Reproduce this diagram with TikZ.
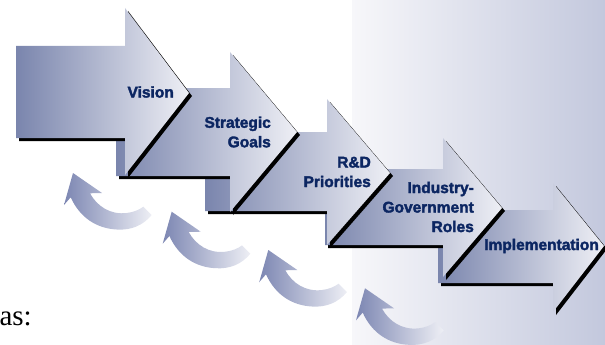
\documentclass[tikz,border=0pt]{standalone}
\usepackage{fontspec}
\newfontfamily\stepfont[FakeBold=2.2]{Liberation Sans}
\newfontfamily\serifbody{Liberation Serif}
\definecolor{arrL}{RGB}{122,133,173}
\definecolor{arrR}{RGB}{238,239,245}
\definecolor{curL}{RGB}{124,134,178}
\definecolor{curR}{RGB}{238,239,245}
\definecolor{panL}{RGB}{247,247,250}
\definecolor{panR}{RGB}{195,200,221}
\definecolor{labelblue}{RGB}{12,38,98}
\tikzset{
  steplabel/.style={font={\stepfont\bfseries\fontsize{15.5}{19.5}\selectfont}, text=labelblue, inner sep=0pt, align=right, anchor=east},
  stairshade/.style={left color=arrL, right color=arrR},
  backshade/.style={left color=curL, right color=curR}
}
% #1 L, #2 T, #3 B, #4 H, #5 HT, #6 X, #7 Y, #8 HB
\newcommand\stairarrow[8]{%
  \fill[black, shift={(3,3)}] (#1,#2) -- (#4,#2) -- (#4,#5) -- (#6,#7) -- (#4,#8) -- (#4,#3) -- (#1,#3) -- cycle;
  \shade[stairshade] (#1,#2) -- (#4,#2) -- (#4,#5) -- (#6,#7) -- (#4,#8) -- (#4,#3) -- (#1,#3) -- cycle;
}
\newcommand\backarrow[2]{%
  \shade[backshade, shift={(#1,#2)}] (0,0) -- (29,20) -- (17,20.3)
    .. controls (24,33) and (37,42) .. (53.7,40)
    .. controls (60,39.3) and (66,37) .. (70.3,33.7) -- (78.7,42)
    .. controls (70,52.5) and (58,57.5) .. (43.7,56.5)
    .. controls (24,55.5) and (7,45) .. (-2.3,24.3) -- (-9,32) -- cycle;
}
\begin{document}
\begin{tikzpicture}[x=1pt,y=-1pt]
\useasboundingbox (0,0) rectangle (605,345);
% background panel
\shade[left color=panL, right color=panR] (352,0) rectangle (605,345);
% curved return arrows
\backarrow{73}{173}
\backarrow{171.7}{211.7}
\backarrow{268.3}{250}
\backarrow{365}{288.3}
% stair arrows, back to front
\stairarrow{438}{210}{283}{553}{183}{604}{246}{312}
\stairarrow{325}{169}{245}{443}{138}{502}{208}{277}
\stairarrow{205}{132}{211}{327}{99}{390}{173}{245}
\stairarrow{116}{88}{176}{230}{52}{297}{132}{212}
\stairarrow{16}{46}{138}{125}{8}{189}{93}{175}
% labels
\node[steplabel] (vision) at (174,92) {Vision};
\node[steplabel] (goals) at (271,132) {Strategic\\Goals};
\node[steplabel] (rnd) at (371,172) {R\&D\\Priorities};
\node[steplabel] (roles) at (474,207) {Industry-\\Government\\Roles};
\node[steplabel] (impl) at (599,246) {Implementation};
\node[anchor=base east, inner sep=0pt, font={\serifbody\fontsize{29}{31}\selectfont}] (aslabel) at (32,325) {as:};
\end{tikzpicture}
\end{document}
